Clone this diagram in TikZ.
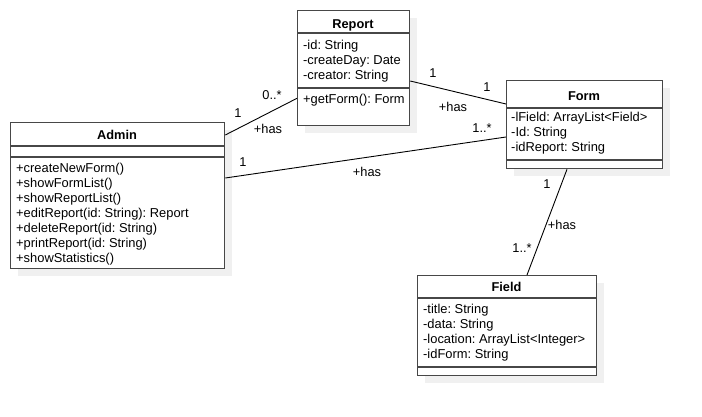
\documentclass[tikz,border=0pt]{standalone}
\usepackage{fontspec}
\setmainfont{Liberation Sans}
\usetikzlibrary{calc,shadows}
\frenchspacing

\tikzset{
  classbox/.style={draw=black!72, line width=1.3pt, fill=white, anchor=north west, inner sep=0pt,
    drop shadow={shadow xshift=7pt, shadow yshift=-7pt, opacity=1, fill=black!6, draw=none}},
  sepline/.style={draw=black!72, line width=1.3pt},
  title/.style={font=\fontsize{12.8}{15}\selectfont\bfseries, anchor=base, inner sep=0pt},
  member/.style={font=\fontsize{12.9}{15}\selectfont, anchor=base west, inner sep=0pt},
  assoc/.style={draw=black, line width=0.9pt},
  mult/.style={font=\fontsize{12.8}{15}\selectfont, inner sep=0pt}
}

\begin{document}
\begin{tikzpicture}[x=1pt, y=-1pt]
  \useasboundingbox (0,0) rectangle (702,416);

  % Class boxes
  \node[classbox, minimum width=214pt, minimum height=146pt] (admin) at (10,122) {};
  \node[classbox, minimum width=112pt, minimum height=115pt] (report) at (297,10) {};
  \node[classbox, minimum width=156pt, minimum height=88pt] (form) at (506,80) {};
  \node[classbox, minimum width=179pt, minimum height=100pt] (field) at (417,275) {};

  % Section lines
  \draw[sepline] ($(admin.north west)+(0,24)$) -- ($(admin.north east)+(0,24)$);
  \draw[sepline] ($(admin.north west)+(0,35)$) -- ($(admin.north east)+(0,35)$);
  \draw[sepline] ($(report.north west)+(0,23)$) -- ($(report.north east)+(0,23)$);
  \draw[sepline] ($(report.north west)+(0,78)$) -- ($(report.north east)+(0,78)$);
  \draw[sepline] ($(form.north west)+(0,28)$) -- ($(form.north east)+(0,28)$);
  \draw[sepline] ($(form.north west)+(0,80)$) -- ($(form.north east)+(0,80)$);
  \draw[sepline] ($(field.north west)+(0,23)$) -- ($(field.north east)+(0,23)$);
  \draw[sepline] ($(field.north west)+(0,92)$) -- ($(field.north east)+(0,92)$);

  % Titles
  \node[title] (admintitle) at (117,139) {Admin};
  \node[title] (reporttitle) at (353,28) {Report};
  \node[title] (formtitle) at (584,100) {Form};
  \node[title] (fieldtitle) at (506.5,291) {Field};

  % Members
  \foreach \t [count=\i] in {+createNewForm(), +showFormList(), +showReportList(),
      +editReport(id: String): Report, +deleteReport(id: String),
      +printReport(id: String), +showStatistics()}
    \node[member] (adminm\i) at (16,{172+15*(\i-1)}) {\t};
  \foreach \t [count=\i] in {-id: String, -createDay: Date, -creator: String}
    \node[member] (reporta\i) at (303,{49+15*(\i-1)}) {\t};
  \node[member] (reportm1) at (303,103) {+getForm(): Form};
  \foreach \t [count=\i] in {-lField: ArrayList<Field>, -Id: String, -idReport: String}
    \node[member] (forma\i) at (511,{121.5+15*(\i-1)}) {\t};
  \foreach \t [count=\i] in {-title: String, -data: String,
      -location: ArrayList<Integer>, -idForm: String}
    \node[member] (fielda\i) at (423,{313+15.3*(\i-1)}) {\t};

  % Associations
  \draw[assoc] ($(admin.north east)+(0,13)$) -- ($(report.south west)+(0,-28)$);
  \draw[assoc] ($(report.north east)+(0,71)$) -- ($(form.north west)+(0,24)$);
  \draw[assoc] ($(admin.north east)+(0,56)$) -- ($(form.north west)+(0,57)$);
  \draw[assoc] ($(form.south west)+(61,0)$) -- ($(field.north west)+(110,0)$);

  % Multiplicities and roles
  \node[mult] (m1) at (238,113) {1};
  \node[mult] (m2) at (272,95) {0..*};
  \node[mult] (r1) at (268,129) {+has};
  \node[mult] (m3) at (433,73) {1};
  \node[mult] (m4) at (487,87) {1};
  \node[mult] (r2) at (453,107) {+has};
  \node[mult] (m5) at (243,162) {1};
  \node[mult] (m6) at (482,128) {1..*};
  \node[mult] (r3) at (367,172) {+has};
  \node[mult] (m7) at (547,184) {1};
  \node[mult] (r4) at (562,225) {+has};
  \node[mult] (m8) at (522,248) {1..*};
\end{tikzpicture}
\end{document}
